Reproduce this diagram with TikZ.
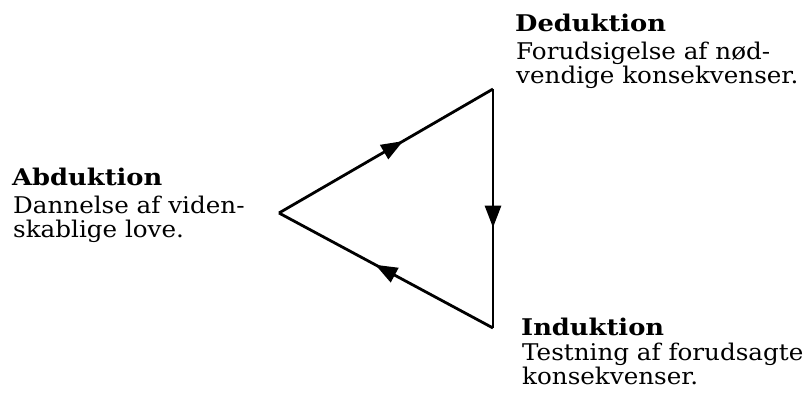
\documentclass[tikz,border=0pt]{standalone}
\usepackage{fontspec}
\setmainfont{DejaVu Serif}
\usepackage{tikz}
\usetikzlibrary{arrows.meta,positioning,decorations.markings}
\tikzset{
  Head/.style={font=\fontsize{23}{24}\selectfont\bfseries\addfontfeature{FakeStretch=1.12},
               inner sep=0pt, anchor=base west},
  Desc/.style={font=\fontsize{23}{24}\selectfont\addfontfeature{FakeStretch=1.07},
               align=left, inner sep=0pt, anchor=base west},
  Edge/.style={line width=2.8pt, line join=miter,
               postaction={decorate, decoration={markings,
                 mark=at position #1 with {\arrow{Triangle[length=22pt,width=16pt]}}}}}
}

\begin{document}
\begin{tikzpicture}[x=1pt,y=-1pt]
  \useasboundingbox (0,0) rectangle (807,407);

  % corners of the cycle
  \coordinate (abd) at (279,213);
  \coordinate (ded) at (493,89);
  \coordinate (ind) at (493,328);

  \draw[Edge=0.58] (abd) -- (ded);
  \draw[Edge=0.58] (ded) -- (ind);
  \draw[Edge=0.55] (ind) -- (abd);

  % labels (Desc nodes sit on their last line)
  \node[Head] (tded) at (515,31) {Deduktion};
  \node[Desc] (dded) at (516,83) {Forudsigelse af nød-\\vendige konsekvenser.};

  \node[Head] (tabd) at (12,185) {Abduktion};
  \node[Desc] (dabd) at (13,237) {Dannelse af viden-\\skablige love.};

  \node[Head] (tind) at (521,335) {Induktion};
  \node[Desc] (dind) at (522,384) {Testning af forudsagte\\konsekvenser.};
\end{tikzpicture}
\end{document}
